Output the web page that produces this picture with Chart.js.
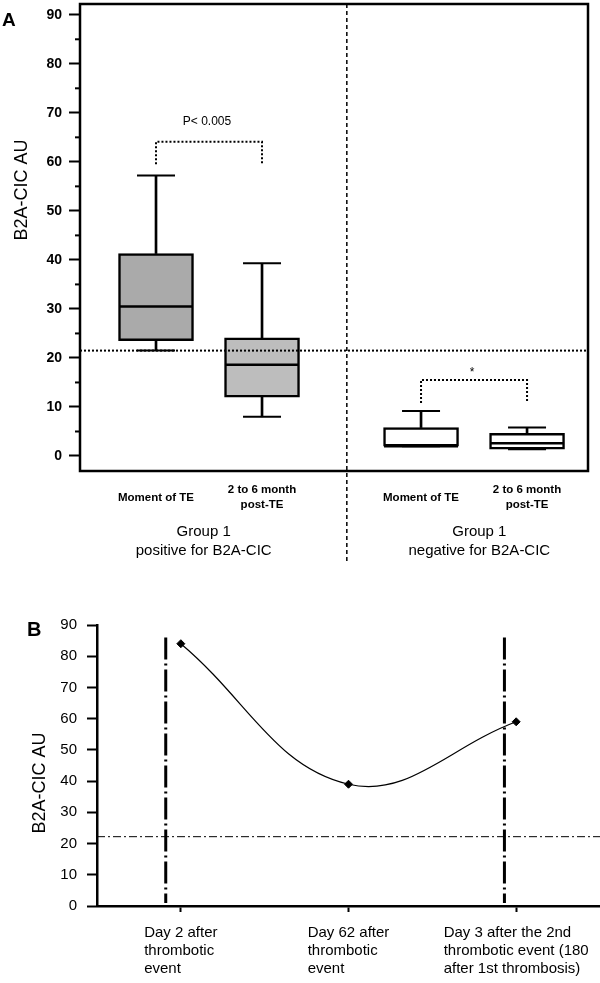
<!DOCTYPE html>
<html>
<head>
<meta charset="utf-8">
<script src="https://cdn.jsdelivr.net/npm/chart.js@4.4.1/dist/chart.umd.min.js"></script>
<style>
  body { margin: 0; background: #fff; }
  #wrap { position: relative; width: 600px; height: 983px; }
  canvas { position: absolute; left: 0; }
  #chartA { top: 0; }
  #chartB { top: 600px; }
</style>
</head>
<body>
<div id="wrap">
  <canvas id="chartA" width="600" height="600"></canvas>
  <canvas id="chartB" width="600" height="383"></canvas>
</div>
<script>
// ---- panel A: box plots ----
const boxLabels = ['Moment of TE', ['2 to 6 month', 'post-TE'], 'Moment of TE', ['2 to 6 month', 'post-TE']];
const groupLabels = [['Group 1', 'positive for B2A-CIC'], ['Group 1', 'negative for B2A-CIC']];
const boxPos = [0, 1, 2.5, 3.5];
const boxMin = [21.5, 8.0, 2.0, 1.4];
const boxQ1 = [23.5, 12.0, 2.0, 1.4];
const boxMed = [30.5, 18.6, 2.0, 2.6];
const boxQ3 = [41.3, 24.1, 5.8, 4.6];
const boxMax = [57.2, 39.3, 9.2, 5.8];
const cutoffA = 21.5;
const yTicksA = [0, 10, 20, 30, 40, 50, 60, 70, 80, 90];
const yMinorA = [5, 15, 25, 35, 45, 55, 65, 75, 85];
const sigPairs = [[0, 1], [2, 3]];
const sigTop = [64.1, 15.5];
const sigLeg = [59.5, 10.8];
const sigText = ['P< 0.005', '*'];

// ---- panel B: one patient over time ----
const dayLabels = [
  ['Day 2 after', 'thrombotic', 'event'],
  ['Day 62 after', 'thrombotic', 'event'],
  ['Day 3 after the 2nd', 'thrombotic event (180', 'after 1st thrombosis)']
];
const dayValues = [84, 39, 59];
const cutoffB = 22.2;
const eventLines = [-0.09, 1.93];
const yTicksB = [0, 10, 20, 30, 40, 50, 60, 70, 80, 90];

const FONT = '"Liberation Sans", Arial, sans-serif';
Chart.defaults.font.family = FONT;
Chart.defaults.color = '#000';
Chart.defaults.animation = false;

function strokePath(ctx, pts, dash, width) {
  ctx.save();
  ctx.beginPath();
  ctx.setLineDash(dash);
  ctx.lineWidth = width;
  ctx.strokeStyle = '#000';
  pts.forEach((p, i) => i ? ctx.lineTo(p[0], p[1]) : ctx.moveTo(p[0], p[1]));
  ctx.stroke();
  ctx.restore();
}

function label(ctx, str, x, y, font, align) {
  ctx.save();
  ctx.font = font;
  ctx.fillStyle = '#000';
  ctx.textAlign = align || 'center';
  ctx.textBaseline = 'alphabetic';
  ctx.fillText(str, x, y);
  ctx.restore();
}

function vTitle(ctx, str, x, y) {
  ctx.save();
  ctx.translate(x, y);
  ctx.rotate(-Math.PI / 2);
  ctx.font = '18px ' + FONT;
  ctx.fillStyle = '#000';
  ctx.textAlign = 'center';
  ctx.textBaseline = 'middle';
  ctx.fillText(str, 0, 0);
  ctx.restore();
}

const panelA = {
  id: 'panelA',
  afterDatasetsDraw(chart) {
    const { ctx, chartArea: a, scales: { x, y } } = chart;
    const yc = y.getPixelForValue(cutoffA);
    strokePath(ctx, [[a.left, yc], [a.right, yc]], [2, 2], 2);
    sigPairs.forEach(([i, j], k) => {
      const x1 = x.getPixelForValue(boxPos[i]);
      const x2 = x.getPixelForValue(boxPos[j]);
      const yt = y.getPixelForValue(sigTop[k]);
      const yl = y.getPixelForValue(sigLeg[k]);
      strokePath(ctx, [[x1, yl], [x1, yt], [x2, yt], [x2, yl]], [2, 2], 2);
      const gap = k === 0 ? 17 : 4;
      label(ctx, sigText[k], (x1 + x2) / 2 - 2, yt - gap, '12px ' + FONT);
    });
    ctx.save();
    ctx.lineWidth = 2.5;
    ctx.strokeStyle = '#000';
    ctx.strokeRect(a.left, a.top, a.right - a.left, a.bottom - a.top);
    ctx.restore();
    yMinorA.forEach(v => {
      const py = y.getPixelForValue(v);
      strokePath(ctx, [[a.left - 5, py], [a.left, py]], [], 2);
    });
  },
  afterDraw(chart) {
    const { ctx, chartArea: a, scales: { x } } = chart;
    const xd = x.getPixelForValue(1.8);
    strokePath(ctx, [[xd, a.top], [xd, 562]], [4, 3], 1.5);
    const boldF = 'bold 11.5px ' + FONT;
    boxLabels.forEach((lab, i) => {
      const px = x.getPixelForValue(boxPos[i]);
      if (Array.isArray(lab)) {
        label(ctx, lab[0], px, 493, boldF);
        label(ctx, lab[1], px, 507.5, boldF);
      } else {
        label(ctx, lab, px, 501, boldF);
      }
    });
    [0.45, 3.05].forEach((gx, i) => {
      const px = x.getPixelForValue(gx);
      label(ctx, groupLabels[i][0], px, 536, '15px ' + FONT);
      label(ctx, groupLabels[i][1], px, 555, '15px ' + FONT);
    });
    vTitle(ctx, 'B2A-CIC AU', 22, 190);
    label(ctx, 'A', 2, 26, 'bold 19px ' + FONT, 'left');
  }
};

const boxData = k => boxPos.map((p, i) => ({ x: p, y: k(i) }));

new Chart(document.getElementById('chartA'), {
  type: 'bar',
  data: {
    datasets: [
      {
        type: 'scatter', order: 0,
        data: boxData(i => boxMed[i]),
        pointStyle: 'line', pointRadius: 37, pointHoverRadius: 37,
        borderColor: '#000', pointBorderColor: '#000', borderWidth: 2.5, pointBorderWidth: 2.5
      },
      {
        type: 'scatter', order: 0,
        data: boxData(i => boxMax[i]).concat(boxData(i => boxMin[i])),
        pointStyle: 'line', pointRadius: 19, pointHoverRadius: 19,
        borderColor: '#000', pointBorderColor: '#000', borderWidth: 2, pointBorderWidth: 2
      },
      {
        order: 1, grouped: false,
        data: boxData(i => [boxQ1[i], boxQ3[i]]),
        barThickness: 75,
        backgroundColor: ['#aaaaaa', '#bdbdbd', '#ffffff', '#ffffff'],
        borderColor: '#000', borderWidth: 2.5, borderSkipped: false
      },
      {
        order: 2, grouped: false,
        data: boxData(i => [boxQ3[i], boxMax[i]]),
        barThickness: 2, backgroundColor: '#000', borderWidth: 0
      },
      {
        order: 2, grouped: false,
        data: boxData(i => [boxMin[i], boxQ1[i]]),
        barThickness: 2, backgroundColor: '#000', borderWidth: 0
      }
    ]
  },
  options: {
    responsive: false,
    devicePixelRatio: 1,
    layout: { autoPadding: false, padding: { top: 4, right: 12, left: 0, bottom: 0 } },
    plugins: { legend: { display: false }, tooltip: { enabled: false } },
    scales: {
      x: {
        type: 'linear', min: -0.717, max: 4.075, offset: false,
        grid: { display: false, drawTicks: false },
        border: { display: false },
        ticks: { display: false },
        afterFit: s => { s.height = 129; s.paddingLeft = 0; s.paddingRight = 0; }
      },
      y: {
        min: -3.06, max: 92.2,
        afterBuildTicks: s => { s.ticks = yTicksA.map(v => ({ value: v })); },
        ticks: { font: { size: 14, weight: 'bold' }, color: '#000', padding: 7 },
        grid: { drawOnChartArea: false, drawTicks: true, tickLength: 11, tickColor: '#000', tickWidth: 2 },
        border: { display: false },
        afterFit: s => { s.width = 80; s.paddingTop = 0; s.paddingBottom = 0; }
      }
    }
  },
  plugins: [panelA]
});

const panelB = {
  id: 'panelB',
  afterDatasetsDraw(chart) {
    const { ctx, chartArea: a, scales: { x, y } } = chart;
    const yc = y.getPixelForValue(cutoffB);
    strokePath(ctx, [[a.left, yc], [a.right, yc]], [8, 3, 2, 3], 1);
    eventLines.forEach(v => {
      const px = x.getPixelForValue(v);
      strokePath(ctx, [[px, y.getPixelForValue(86)], [px, y.getPixelForValue(1)]], [22, 4, 2, 4], 3);
    });
  },
  afterDraw(chart) {
    const { ctx, scales: { x } } = chart;
    ctx.save();
    ctx.font = '15px ' + FONT;
    dayLabels.forEach((lines, i) => {
      const px = x.getPixelForValue(i);
      const w = Math.max(...lines.map(l => ctx.measureText(l).width));
      lines.forEach((l, k) => label(ctx, l, px - w / 2, 337 + 18 * k, '15px ' + FONT, 'left'));
    });
    ctx.restore();
    vTitle(ctx, 'B2A-CIC AU', 40, 183);
    label(ctx, 'B', 27, 36, 'bold 20px ' + FONT, 'left');
  }
};

new Chart(document.getElementById('chartB'), {
  type: 'line',
  data: {
    labels: dayLabels.map(l => l.join(' ')),
    datasets: [{
      data: dayValues,
      borderColor: '#000', borderWidth: 1.2, tension: 0.4, fill: false,
      pointStyle: 'rectRot', pointRadius: 4, pointHoverRadius: 4,
      pointBackgroundColor: '#000', pointBorderColor: '#000', pointBorderWidth: 1
    }]
  },
  options: {
    responsive: false,
    devicePixelRatio: 1,
    layout: { autoPadding: false, padding: { top: 25, right: 0, left: 0, bottom: 0 } },
    plugins: { legend: { display: false }, tooltip: { enabled: false } },
    scales: {
      x: {
        offset: true,
        grid: { drawOnChartArea: false, drawTicks: true, tickLength: 6, tickColor: '#000', tickWidth: 2 },
        border: { display: true, color: '#000', width: 2.5 },
        ticks: { display: false },
        afterFit: s => { s.height = 77; s.paddingLeft = 0; s.paddingRight = 0; }
      },
      y: {
        min: 0, max: 90,
        afterBuildTicks: s => { s.ticks = yTicksB.map(v => ({ value: v })); },
        ticks: { font: { size: 15 }, color: '#000', padding: 10 },
        grid: { drawOnChartArea: false, drawTicks: true, tickLength: 10, tickColor: '#000', tickWidth: 2 },
        border: { display: true, color: '#000', width: 2.5 },
        afterFit: s => { s.width = 97; s.paddingTop = 0; s.paddingBottom = 0; }
      }
    }
  },
  plugins: [panelB]
});
</script>
</body>
</html>
